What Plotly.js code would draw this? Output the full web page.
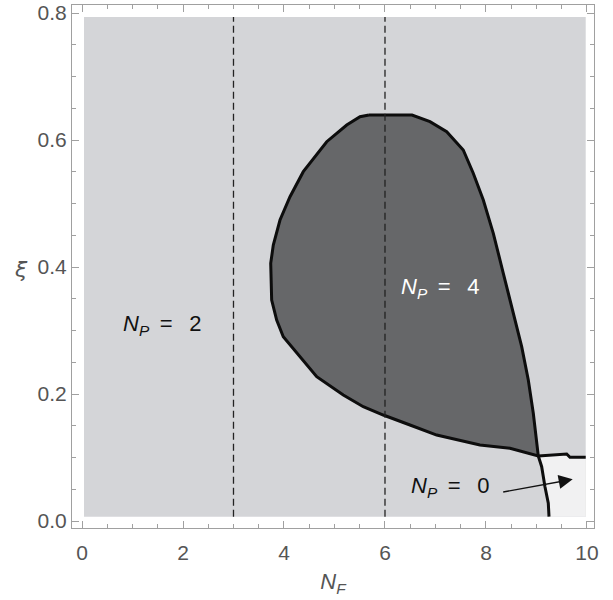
<!DOCTYPE html>
<html>
<head>
<meta charset="utf-8">
<script src="https://cdn.plot.ly/plotly-3.0.1.min.js"></script>
<style>html,body{margin:0;padding:0;background:#fff;}#chart{width:613px;height:600px;}</style>
</head>
<body>
<div id="chart"></div>
<script>
// Parameter domain (light-gray N_P = 2 region)
const domainX = [0.04, 9.975, 9.975, 0.04];
const domainY = [0.0068, 0.0068, 0.7937, 0.7937];

// N_P = 4 region (dark), boundary traced clockwise
const np4X = [5.683, 6.535, 6.891, 7.222, 7.550, 7.748, 7.947, 8.145, 8.343, 8.541, 8.707, 8.838, 8.937, 9.036,
              8.475, 7.881, 7.024, 6.495, 5.966, 5.570, 5.174, 4.648, 4.317, 3.986, 3.855, 3.756, 3.737, 3.788,
              3.921, 4.119, 4.382, 4.846, 5.242, 5.505, 5.683];
const np4Y = [0.6394, 0.6394, 0.6288, 0.6131, 0.5843, 0.5476, 0.5055, 0.4531, 0.3901, 0.3271, 0.2745, 0.2220, 0.1696, 0.1024,
              0.1145, 0.1197, 0.1354, 0.1512, 0.1669, 0.1800, 0.1984, 0.2272, 0.2587, 0.2902, 0.3165, 0.3480, 0.4058, 0.4346,
              0.4740, 0.5107, 0.5501, 0.5973, 0.6236, 0.6367, 0.6394];

// N_P = 0 region (near white)
const np0X = [9.036, 9.598, 9.663, 9.975, 9.975, 9.248, 9.234, 9.168, 9.103, 9.036];
const np0Y = [0.1024, 0.1055, 0.1003, 0.1003, 0.0068, 0.0068, 0.0279, 0.0540, 0.0855, 0.1024];

// Boundary of N_P = 0 region
const edgeHX = [9.036, 9.598, 9.663, 9.975];
const edgeHY = [0.1024, 0.1055, 0.1003, 0.1003];
const edgeVX = [9.036, 9.103, 9.168, 9.234, 9.248];
const edgeVY = [0.1024, 0.0855, 0.0540, 0.0279, 0.0068];

// Dashed reference lines
const dashX = [3, 6];

// Labels
const labelText = ['<i>N</i><sub><i>P</i></sub>\u2009 = \u2009 2', '<i>N</i><sub><i>P</i></sub>\u2009 = \u2009 4', '<i>N</i><sub><i>P</i></sub>\u2009 = \u2009 0'];
const labelX = [1.584, 7.089, 7.287];
const labelY = [0.3087, 0.367, 0.0535];
const labelColor = ['#111111', '#ffffff', '#111111'];

// Arrow (tail -> head)
const arrowTail = [8.311, 0.0452];
const arrowHead = [9.717, 0.0657];

const xTicks = [0, 2, 4, 6, 8, 10];
const yTicks = [0.0, 0.2, 0.4, 0.6, 0.8];

const traces = [
  {x: domainX, y: domainY, type: 'scatter', mode: 'lines', fill: 'toself',
   fillcolor: '#d4d5d8', line: {width: 0, color: 'rgba(0,0,0,0)'}, hoverinfo: 'skip'},
  {x: np0X, y: np0Y, type: 'scatter', mode: 'lines', fill: 'toself',
   fillcolor: '#f1f1f2', line: {width: 0, color: 'rgba(0,0,0,0)'}, hoverinfo: 'skip'},
  {x: np4X, y: np4Y, type: 'scatter', mode: 'lines', fill: 'toself',
   fillcolor: '#666769', line: {width: 3, color: '#0d0d0d'}, hoverinfo: 'skip'},
  {x: edgeHX, y: edgeHY, type: 'scatter', mode: 'lines', line: {width: 3, color: '#0d0d0d'}, hoverinfo: 'skip'},
  {x: edgeVX, y: edgeVY, type: 'scatter', mode: 'lines', line: {width: 3, color: '#0d0d0d'}, hoverinfo: 'skip'}
];
dashX.forEach(function (xv) {
  traces.push({x: [xv, xv], y: [domainY[0], domainY[2]], type: 'scatter', mode: 'lines',
    line: {width: 1.3, color: '#222222', dash: '7px,4px'}, hoverinfo: 'skip'});
});

const fam = 'Liberation Sans, Arial, Helvetica, sans-serif';
const font = {family: fam, size: 21, color: '#555555'};

const annotations = labelText.map(function (t, i) {
  return {x: labelX[i], y: labelY[i], xref: 'x', yref: 'y', text: t, showarrow: false,
    font: {family: fam, size: 22, color: labelColor[i]}};
});
annotations.push({x: arrowHead[0], y: arrowHead[1], ax: arrowTail[0], ay: arrowTail[1],
  xref: 'x', yref: 'y', axref: 'x', ayref: 'y', text: '', showarrow: true,
  arrowhead: 2, arrowsize: 2, arrowwidth: 1.4, arrowcolor: '#111111'});
annotations.push({x: (21 - 72) / (613 - 72 - 19), y: (600 - 72 - 269) / (600 - 5 - 72),
  xref: 'paper', yref: 'paper', text: '<i>ξ</i>', showarrow: false, xanchor: 'center', yanchor: 'middle',
  font: {family: 'DejaVu Sans, sans-serif', size: 22, color: '#555555'}});

const layout = {
  width: 613, height: 600,
  margin: {l: 72, r: 19, t: 5, b: 72},
  paper_bgcolor: '#ffffff', plot_bgcolor: '#ffffff',
  showlegend: false,
  font: font,
  xaxis: {
    range: [-0.198, 10.139], tickvals: xTicks, ticktext: xTicks.map(String),
    ticks: 'inside', ticklen: 7, tickcolor: '#a0a0a0', tickwidth: 1,
    minor: {dtick: 0.5, tick0: 0, ticks: 'inside', ticklen: 4, tickcolor: '#a0a0a0', showgrid: false},
    showline: true, linecolor: '#a0a0a0', linewidth: 1, mirror: 'ticks',
    showgrid: false, zeroline: false, ticklabelstandoff: 6,
    tickfont: font,
    title: {text: '<i>N</i><sub><i>F</i></sub>', font: {family: fam, size: 22, color: '#555555'}, standoff: 10}
  },
  yaxis: {
    range: [-0.011, 0.8126], tickvals: yTicks, ticktext: yTicks.map(function (v) { return v.toFixed(1); }),
    ticks: 'inside', ticklen: 7, tickcolor: '#a0a0a0', tickwidth: 1,
    minor: {dtick: 0.05, tick0: 0, ticks: 'inside', ticklen: 4, tickcolor: '#a0a0a0', showgrid: false},
    showline: true, linecolor: '#a0a0a0', linewidth: 1, mirror: 'ticks',
    showgrid: false, zeroline: false, ticklabelstandoff: 0,
    tickfont: font
  },
  annotations: annotations
};

Plotly.newPlot('chart', traces, layout, {staticPlot: true, displayModeBar: false});
</script>
</body>
</html>
